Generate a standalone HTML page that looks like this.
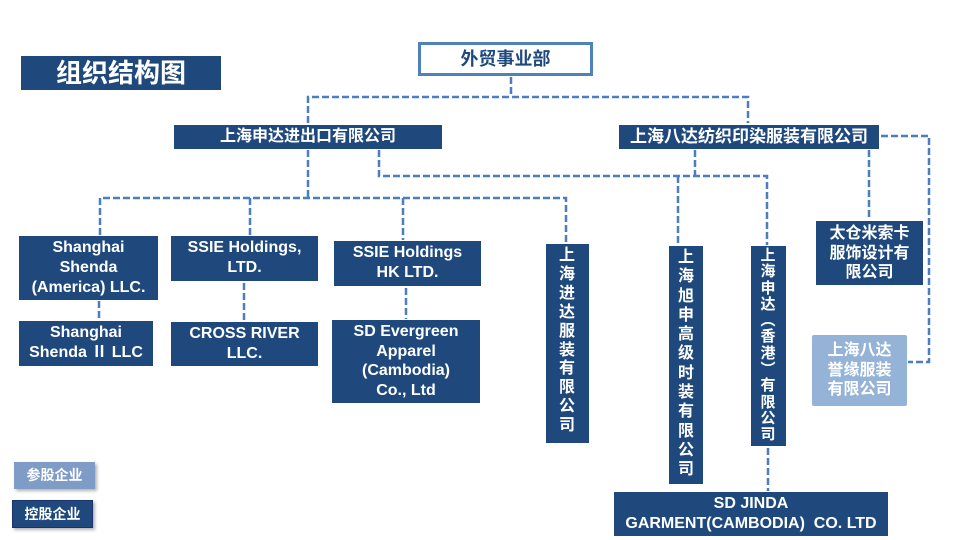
<!DOCTYPE html>
<html><head><meta charset="utf-8">
<style>
html,body{margin:0;padding:0;background:#fff;}
#c{position:relative;width:960px;height:540px;overflow:hidden;background:#fff;font-family:"Liberation Sans","Noto Sans CJK SC",sans-serif;font-weight:bold;}
.b{position:absolute;background:#1f497d;color:#fff;text-align:center;box-sizing:border-box;}
.en{font-size:16px;line-height:20px;}
.cn{font-size:16px;}
.v{position:absolute;color:#fff;font-size:16px;text-align:center;width:30px;}
svg{position:absolute;left:0;top:0;}
</style></head><body>
<div id="c">
<svg width="960" height="540">
<g fill="none" stroke="#4a7ebf" stroke-width="2.5" stroke-dasharray="7 3">
<path d="M511 77 V97"/>
<path d="M308 123 V97 H748 V123"/>
<path d="M308 150 V198"/>
<path d="M100 235 V198 H566 V243"/>
<path d="M250 198 V235"/>
<path d="M403 198 V240"/>
<path d="M379 150 V176 H767 V245"/>
<path d="M695 150 V176"/>
<path d="M678 176 V245"/>
<path d="M99 301 V320"/>
<path d="M244 283 V321"/>
<path d="M406 288 V319"/>
<path d="M869 150 V220"/>
<path d="M881 136 H929 V362 H908"/>
<path d="M768 448 V491"/>
</g>
</svg>

<div class="b" style="left:21px;top:56px;width:200px;height:34px;font-size:26px;line-height:34px;">组织结构图</div>

<div style="position:absolute;left:418px;top:42px;width:175px;height:34px;box-sizing:border-box;border:3px solid #4f81bd;background:#fff;color:#1f497d;font-size:18px;line-height:28px;text-align:center;">外贸事业部</div>

<div class="b cn" style="left:174px;top:125px;width:268px;height:24px;line-height:24px;">上海申达进出口有限公司</div>
<div class="b" style="left:619px;top:125px;width:260px;height:24px;line-height:24px;font-size:17px;">上海八达纺织印染服装有限公司</div>

<div class="b en" style="left:19px;top:236px;width:139px;height:64px;padding-top:2px;">Shanghai<br>Shenda<br>(America) LLC.</div>
<div class="b en" style="left:19px;top:321px;width:134px;height:45px;padding-top:2px;">Shanghai<br>Shenda Ⅱ LLC</div>
<div class="b en" style="left:171px;top:236px;width:147px;height:45px;padding-top:2px;">SSIE Holdings,<br>LTD.</div>
<div class="b en" style="left:171px;top:322px;width:147px;height:44px;padding-top:2px;">CROSS RIVER<br>LLC.</div>
<div class="b en" style="left:334px;top:241px;width:147px;height:45px;padding-top:2px;">SSIE Holdings<br>HK LTD.</div>
<div class="b en" style="left:332px;top:320px;width:148px;height:83px;padding-top:2px;line-height:19.5px;">SD Evergreen<br>Apparel<br>(Cambodia)<br>Co., Ltd</div>

<div class="b" style="left:546px;top:244px;width:43px;height:199px;"></div>
<div class="v" style="left:552px;top:247px;line-height:18.9px;">上<br>海<br>进<br>达<br>服<br>装<br>有<br>限<br>公<br>司</div>

<div class="b" style="left:669px;top:246px;width:34px;height:238px;"></div>
<div class="v" style="left:671px;top:248px;line-height:19.3px;">上<br>海<br>旭<br>申<br>高<br>级<br>时<br>装<br>有<br>限<br>公<br>司</div>

<div class="b" style="left:751px;top:246px;width:35px;height:200px;"></div>
<div class="v" style="left:753px;top:248px;font-size:15px;line-height:16.3px;">上<br>海<br>申<br>达<br>︵<br>香<br>港<br>︶<br>有<br>限<br>公<br>司</div>

<div class="b cn" style="left:816px;top:221px;width:107px;height:64px;line-height:19.5px;padding-top:3px;">太仓米索卡<br>服饰设计有<br>限公司</div>

<div class="b cn" style="left:812px;top:335px;width:95px;height:71px;line-height:19.5px;padding-top:6px;background:#95b3d7;border-radius:2px;">上海八达<br>誉缘服装<br>有限公司</div>

<div class="b en" style="left:614px;top:492px;width:274px;height:44px;padding-top:2px;">SD JINDA<br>GARMENT(CAMBODIA)&nbsp; CO. LTD</div>

<div class="b" style="left:14px;top:462px;width:81px;height:27px;background:#7f9cc6;font-size:14px;line-height:27px;box-shadow:2px 2px 3px rgba(0,0,0,0.3);">参股企业</div>
<div class="b" style="left:12px;top:500px;width:81px;height:28px;border:1px solid #1a3370;font-size:14px;line-height:26px;box-shadow:2px 2px 3px rgba(0,0,0,0.3);">控股企业</div>
</div>
</body></html>
